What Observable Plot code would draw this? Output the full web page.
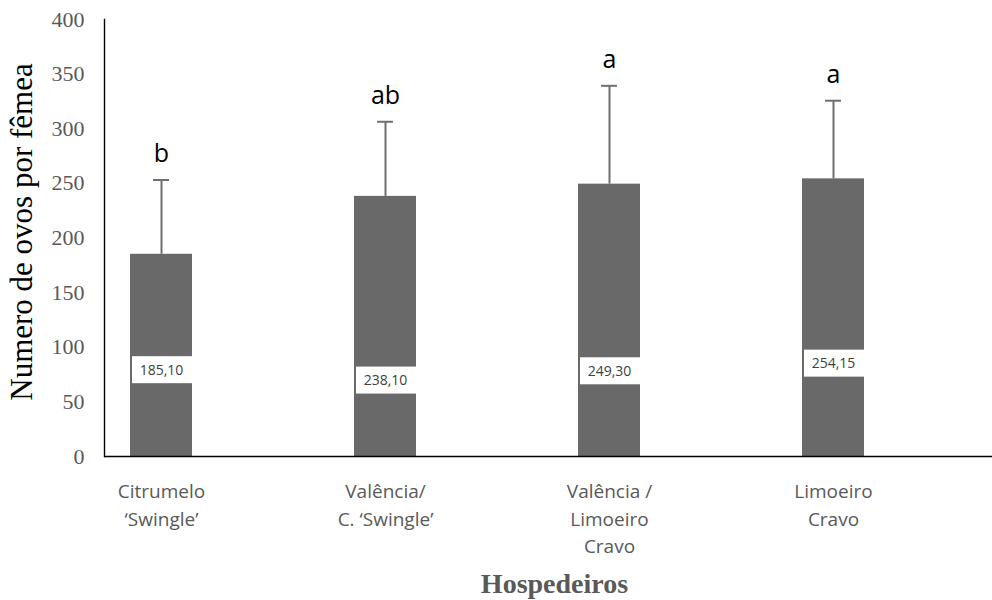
<!DOCTYPE html>
<html>
<head>
<meta charset="utf-8">
<script src="https://cdn.jsdelivr.net/npm/d3@7"></script>
<script src="https://cdn.jsdelivr.net/npm/@observablehq/plot@0.6"></script>
<style>
  html, body { margin: 0; padding: 0; background: #fff; }
</style>
</head>
<body>
<div id="chart"></div>
<script>
// ---- data ----
const hosts = ["Citrumelo\n‘Swingle’", "Valência/\nC. ‘Swingle’", "Valência /\nLimoeiro\nCravo", "Limoeiro\nCravo"];
const means = [185.10, 238.10, 249.30, 254.15];
const errors = [68, 68.3, 90, 71.5];
const letters = ["b", "ab", "a", "a"];
const labelPos = [79, 69.5, 78, 85]; // y value where each data-label box sits
const yTicks = [0, 50, 100, 150, 200, 250, 300, 350, 400];

const rows = hosts.map((h, i) => ({
  host: h, mean: means[i], err: errors[i], top: means[i] + errors[i],
  letter: letters[i], pos: labelPos[i],
  label: means[i].toFixed(2).replace(".", ",")
}));

const serif = "'Liberation Serif', 'Times New Roman', serif";
const sans = "'Open Sans', 'Liberation Sans', sans-serif";

const chart = Plot.plot({
  width: 992,
  height: 600,
  marginLeft: 104,
  marginRight: 0,
  marginTop: 19,
  marginBottom: 144,
  style: { background: "white" },
  x: { domain: hosts, range: [104, 891], paddingInner: 0.7222, paddingOuter: 0.11, label: null },
  y: { domain: [0, 400], label: null },
  marks: [
    Plot.barY(rows, { x: "host", y: "mean", fill: "#696969" }),
    Plot.ruleX(rows, { x: "host", y1: "mean", y2: "top", stroke: "#6f6f6f", strokeWidth: 2 }),
    Plot.tickY(rows, { x: "host", y: "top", stroke: "#6f6f6f", strokeWidth: 2, insetLeft: 23, insetRight: 23 }),
    Plot.barY(rows, { x: "host", y1: "pos", y2: "pos", fill: "white", insetTop: -13.5, insetBottom: -13.5, insetLeft: 2 }),
    Plot.text(rows, { x: "host", y: "pos", text: "label", fill: "#404040", fontSize: 14, fontFamily: sans }),
    Plot.text(rows, { x: "host", y: "top", text: "letter", fill: "black", fontSize: 25, fontFamily: sans, dy: -26 }),
    Plot.ruleY([0], { stroke: "black", strokeWidth: 1.6 }),
    Plot.frame({ anchor: "left", stroke: "black", strokeWidth: 1.4 }),
    Plot.axisY({ ticks: yTicks, tickSize: 0, tickPadding: 20, fontSize: 22, fontFamily: serif, fill: "#595959", label: null, tickFormat: d => d }),
    Plot.axisX({ tickSize: 0, tickPadding: 22, fontSize: 19, fontFamily: sans, fill: "#595959", lineHeight: 1.45, label: null }),
    Plot.text(["Numero de ovos por fêmea"], { frameAnchor: "left", textAnchor: "middle", rotate: -90, dx: -82, dy: -6, fontSize: 31, fontFamily: serif, fill: "black" }),
    Plot.text(["Hospedeiros"], { frameAnchor: "bottom", dy: 136, dx: 6, fontSize: 28, fontWeight: "bold", fontFamily: serif, fill: "#595959" })
  ]
});
document.getElementById("chart").appendChild(chart);
</script>
</body>
</html>
